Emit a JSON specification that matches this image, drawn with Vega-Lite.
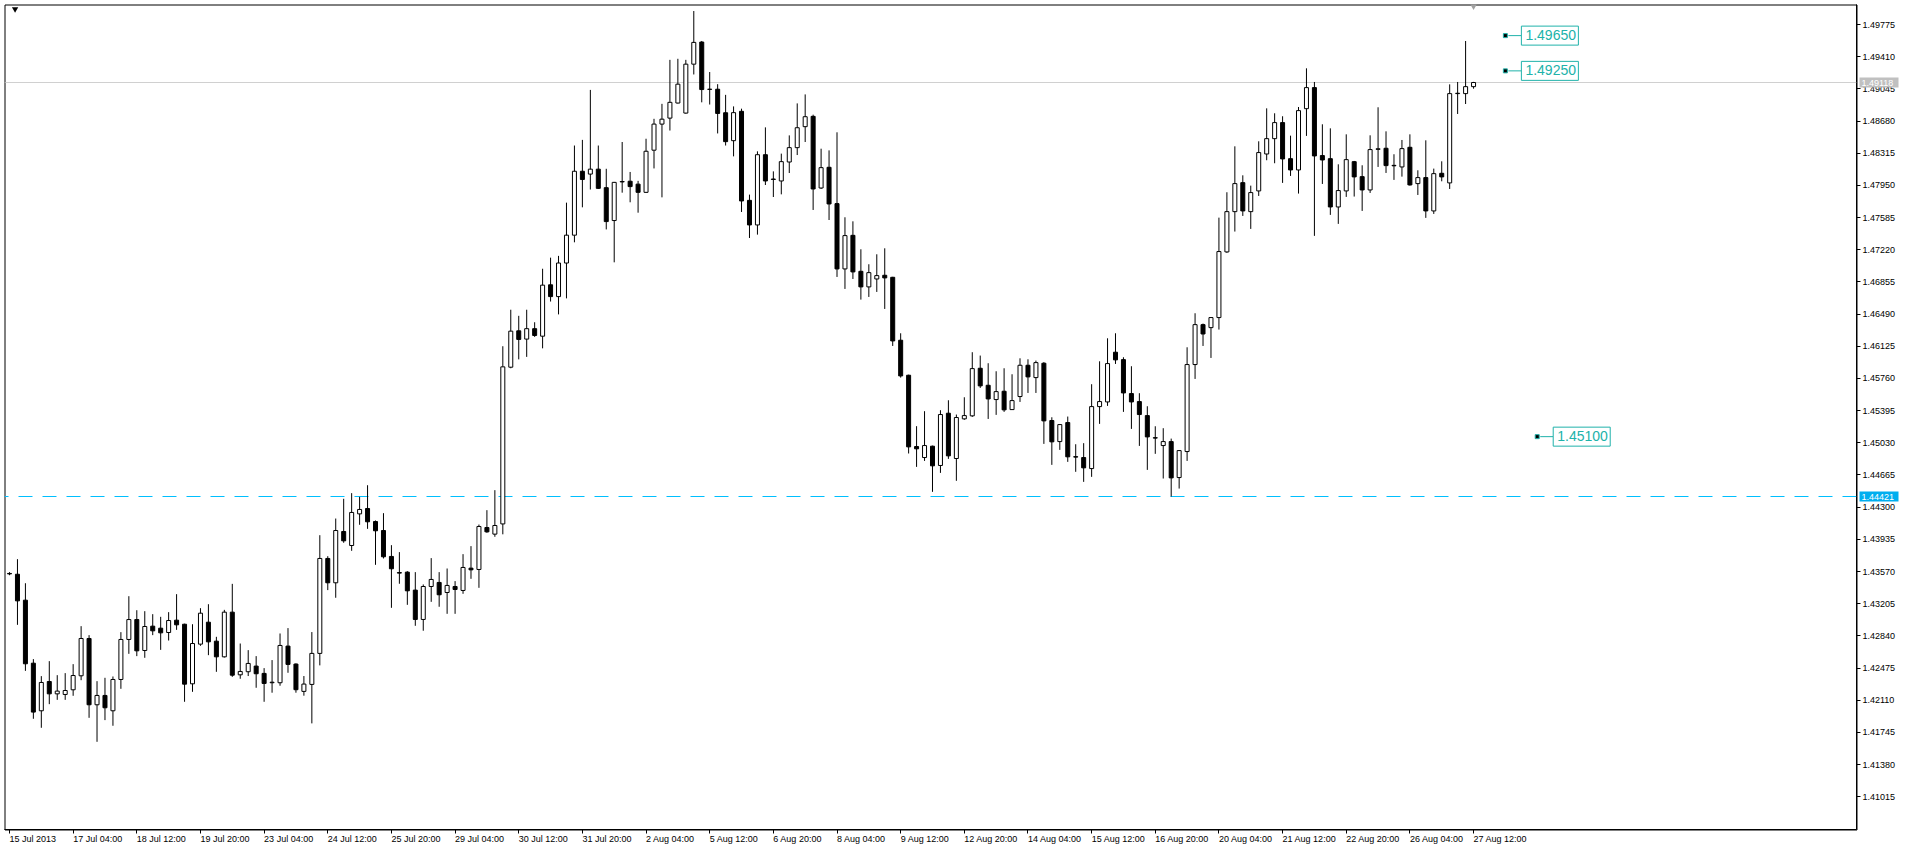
{
 "$schema": "https://vega.github.io/schema/vega-lite/v6.json",
 "width": 1852,
 "height": 825,
 "autosize": {"type": "none"},
 "padding": {"left": 4.5, "top": 4.5, "right": 55.5, "bottom": 22.5},
 "background": "white",
 "config": {
  "view": {"stroke": "black", "strokeWidth": 1},
  "axis": {"labelFont": "Liberation Sans", "labelFontSize": 9, "labelColor": "black", "domainColor": "black", "tickColor": "black", "tickSize": 4, "grid": false, "translate": 0, "labelOverlap": false, "labelFlush": false}
 },
 "datasets": {
  "hlines": [
   {"name": "bid", "p": 1.49118, "label": "1.49118"},
   {"name": "hline", "p": 1.44421, "label": "1.44421"}
  ],
  "labels": [
   {"i": 188, "p": 1.4965, "label": "1.49650"},
   {"i": 188, "p": 1.4925, "label": "1.49250"},
   {"i": 192, "p": 1.451, "label": "1.45100"}
  ],
  "ui": [
   {"kind": "menu", "i": 0.7, "p": 1.49940},
   {"kind": "shift", "i": 184, "p": 1.49971}
  ],
  "candles": [
{"i":0,"t":"15 Jul 20:00","o":1.43548,"h":1.43563,"l":1.43528,"c":1.43543},
{"i":1,"t":"16 Jul 00:00","o":1.43539,"h":1.43710,"l":1.42965,"c":1.43237},
{"i":2,"t":"16 Jul 04:00","o":1.43245,"h":1.43437,"l":1.42443,"c":1.42523},
{"i":3,"t":"16 Jul 08:00","o":1.42530,"h":1.42576,"l":1.41899,"c":1.41975},
{"i":4,"t":"16 Jul 12:00","o":1.41990,"h":1.42383,"l":1.41797,"c":1.42311},
{"i":5,"t":"16 Jul 16:00","o":1.42322,"h":1.42553,"l":1.42065,"c":1.42182},
{"i":6,"t":"16 Jul 20:00","o":1.42182,"h":1.42394,"l":1.42114,"c":1.42213},
{"i":7,"t":"17 Jul 00:00","o":1.42175,"h":1.42417,"l":1.42114,"c":1.42220},
{"i":8,"t":"17 Jul 04:00","o":1.42228,"h":1.42519,"l":1.42160,"c":1.42390},
{"i":9,"t":"17 Jul 08:00","o":1.42387,"h":1.42950,"l":1.42337,"c":1.42810},
{"i":10,"t":"17 Jul 12:00","o":1.42810,"h":1.42848,"l":1.41910,"c":1.42058},
{"i":11,"t":"17 Jul 16:00","o":1.42058,"h":1.42326,"l":1.41638,"c":1.42164},
{"i":12,"t":"17 Jul 20:00","o":1.42164,"h":1.42364,"l":1.41884,"c":1.42024},
{"i":13,"t":"18 Jul 00:00","o":1.41990,"h":1.42379,"l":1.41820,"c":1.42345},
{"i":14,"t":"18 Jul 04:00","o":1.42345,"h":1.42882,"l":1.42239,"c":1.42799},
{"i":15,"t":"18 Jul 08:00","o":1.42799,"h":1.43290,"l":1.42636,"c":1.43025},
{"i":16,"t":"18 Jul 12:00","o":1.43025,"h":1.43131,"l":1.42610,"c":1.42670},
{"i":17,"t":"18 Jul 16:00","o":1.42674,"h":1.43120,"l":1.42591,"c":1.42946},
{"i":18,"t":"18 Jul 20:00","o":1.42950,"h":1.43086,"l":1.42848,"c":1.42897},
{"i":19,"t":"19 Jul 00:00","o":1.42927,"h":1.43056,"l":1.42681,"c":1.42874},
{"i":20,"t":"19 Jul 04:00","o":1.42878,"h":1.43109,"l":1.42787,"c":1.43014},
{"i":21,"t":"19 Jul 08:00","o":1.43018,"h":1.43313,"l":1.42908,"c":1.42965},
{"i":22,"t":"19 Jul 12:00","o":1.42972,"h":1.42978,"l":1.42092,"c":1.42292},
{"i":23,"t":"19 Jul 16:00","o":1.42296,"h":1.42972,"l":1.42205,"c":1.42753},
{"i":24,"t":"19 Jul 20:00","o":1.42746,"h":1.43154,"l":1.42727,"c":1.43097},
{"i":25,"t":"22 Jul 00:00","o":1.42995,"h":1.43199,"l":1.42621,"c":1.42772},
{"i":26,"t":"22 Jul 04:00","o":1.42780,"h":1.42829,"l":1.42432,"c":1.42602},
{"i":27,"t":"22 Jul 08:00","o":1.42602,"h":1.43135,"l":1.42594,"c":1.43109},
{"i":28,"t":"22 Jul 12:00","o":1.43109,"h":1.43430,"l":1.42375,"c":1.42394},
{"i":29,"t":"22 Jul 16:00","o":1.42398,"h":1.42753,"l":1.42353,"c":1.42436},
{"i":30,"t":"22 Jul 20:00","o":1.42433,"h":1.42678,"l":1.42384,"c":1.42527},
{"i":31,"t":"23 Jul 00:00","o":1.42497,"h":1.42610,"l":1.42251,"c":1.42410},
{"i":32,"t":"23 Jul 04:00","o":1.42414,"h":1.42474,"l":1.42092,"c":1.42300},
{"i":33,"t":"23 Jul 08:00","o":1.42308,"h":1.42565,"l":1.42195,"c":1.42314},
{"i":34,"t":"23 Jul 12:00","o":1.42308,"h":1.42867,"l":1.42274,"c":1.42731},
{"i":35,"t":"23 Jul 16:00","o":1.42724,"h":1.42928,"l":1.42421,"c":1.42516},
{"i":36,"t":"23 Jul 20:00","o":1.42520,"h":1.42528,"l":1.42195,"c":1.42229},
{"i":37,"t":"24 Jul 00:00","o":1.42210,"h":1.42384,"l":1.42161,"c":1.42293},
{"i":38,"t":"24 Jul 04:00","o":1.42289,"h":1.42883,"l":1.41847,"c":1.42641},
{"i":39,"t":"24 Jul 08:00","o":1.42641,"h":1.43982,"l":1.42505,"c":1.43718},
{"i":40,"t":"24 Jul 12:00","o":1.43718,"h":1.43744,"l":1.43359,"c":1.43442},
{"i":41,"t":"24 Jul 16:00","o":1.43442,"h":1.44171,"l":1.43272,"c":1.44035},
{"i":42,"t":"24 Jul 20:00","o":1.44024,"h":1.44395,"l":1.43896,"c":1.43918},
{"i":43,"t":"25 Jul 00:00","o":1.43865,"h":1.44459,"l":1.43805,"c":1.44240},
{"i":44,"t":"25 Jul 04:00","o":1.44224,"h":1.44417,"l":1.44100,"c":1.44274},
{"i":45,"t":"25 Jul 08:00","o":1.44285,"h":1.44549,"l":1.44054,"c":1.44134},
{"i":46,"t":"25 Jul 12:00","o":1.44137,"h":1.44149,"l":1.43646,"c":1.44032},
{"i":47,"t":"25 Jul 16:00","o":1.44035,"h":1.44232,"l":1.43718,"c":1.43737},
{"i":48,"t":"25 Jul 20:00","o":1.43741,"h":1.43869,"l":1.43158,"c":1.43601},
{"i":49,"t":"26 Jul 00:00","o":1.43558,"h":1.43790,"l":1.43431,"c":1.43552},
{"i":50,"t":"26 Jul 04:00","o":1.43563,"h":1.43574,"l":1.43192,"c":1.43351},
{"i":51,"t":"26 Jul 08:00","o":1.43359,"h":1.43563,"l":1.42954,"c":1.43026},
{"i":52,"t":"26 Jul 12:00","o":1.43026,"h":1.43423,"l":1.42898,"c":1.43400},
{"i":53,"t":"26 Jul 16:00","o":1.43400,"h":1.43722,"l":1.43226,"c":1.43480},
{"i":54,"t":"26 Jul 20:00","o":1.43446,"h":1.43563,"l":1.43170,"c":1.43306},
{"i":55,"t":"29 Jul 00:00","o":1.43332,"h":1.43604,"l":1.43090,"c":1.43412},
{"i":56,"t":"29 Jul 04:00","o":1.43400,"h":1.43461,"l":1.43090,"c":1.43366},
{"i":57,"t":"29 Jul 08:00","o":1.43355,"h":1.43767,"l":1.43317,"c":1.43616},
{"i":58,"t":"29 Jul 12:00","o":1.43608,"h":1.43858,"l":1.43487,"c":1.43589},
{"i":59,"t":"29 Jul 16:00","o":1.43593,"h":1.44103,"l":1.43385,"c":1.44081},
{"i":60,"t":"29 Jul 20:00","o":1.44069,"h":1.44266,"l":1.44009,"c":1.44020},
{"i":61,"t":"30 Jul 00:00","o":1.43994,"h":1.44493,"l":1.43964,"c":1.44092},
{"i":62,"t":"30 Jul 04:00","o":1.44110,"h":1.46126,"l":1.43992,"c":1.45892},
{"i":63,"t":"30 Jul 08:00","o":1.45888,"h":1.46540,"l":1.45876,"c":1.46297},
{"i":64,"t":"30 Jul 12:00","o":1.46301,"h":1.46471,"l":1.45977,"c":1.46203},
{"i":65,"t":"30 Jul 16:00","o":1.46207,"h":1.46540,"l":1.46005,"c":1.46325},
{"i":66,"t":"30 Jul 20:00","o":1.46325,"h":1.46398,"l":1.46232,"c":1.46248},
{"i":67,"t":"31 Jul 00:00","o":1.46240,"h":1.47005,"l":1.46102,"c":1.46819},
{"i":68,"t":"31 Jul 04:00","o":1.46823,"h":1.47131,"l":1.46633,"c":1.46689},
{"i":69,"t":"31 Jul 08:00","o":1.46689,"h":1.47151,"l":1.46487,"c":1.47070},
{"i":70,"t":"31 Jul 12:00","o":1.47070,"h":1.47755,"l":1.46669,"c":1.47386},
{"i":71,"t":"31 Jul 16:00","o":1.47386,"h":1.48403,"l":1.47305,"c":1.48111},
{"i":72,"t":"31 Jul 20:00","o":1.48111,"h":1.48467,"l":1.47702,"c":1.48018},
{"i":73,"t":"1 Aug 00:00","o":1.48079,"h":1.49034,"l":1.47904,"c":1.48135},
{"i":74,"t":"1 Aug 04:00","o":1.48135,"h":1.48403,"l":1.47910,"c":1.47917},
{"i":75,"t":"1 Aug 08:00","o":1.47925,"h":1.48139,"l":1.47451,"c":1.47540},
{"i":76,"t":"1 Aug 12:00","o":1.47552,"h":1.47990,"l":1.47078,"c":1.47985},
{"i":77,"t":"1 Aug 16:00","o":1.47990,"h":1.48443,"l":1.47868,"c":1.47995},
{"i":78,"t":"1 Aug 20:00","o":1.47998,"h":1.48103,"l":1.47759,"c":1.47937},
{"i":79,"t":"2 Aug 00:00","o":1.47965,"h":1.48002,"l":1.47641,"c":1.47872},
{"i":80,"t":"2 Aug 04:00","o":1.47872,"h":1.48480,"l":1.47865,"c":1.48338},
{"i":81,"t":"2 Aug 08:00","o":1.48350,"h":1.48706,"l":1.48143,"c":1.48646},
{"i":82,"t":"2 Aug 12:00","o":1.48646,"h":1.48876,"l":1.47815,"c":1.48702},
{"i":83,"t":"2 Aug 16:00","o":1.48714,"h":1.49375,"l":1.48573,"c":1.48893},
{"i":84,"t":"2 Aug 20:00","o":1.48885,"h":1.49387,"l":1.48880,"c":1.49099},
{"i":85,"t":"5 Aug 00:00","o":1.48771,"h":1.49375,"l":1.48765,"c":1.49326},
{"i":86,"t":"5 Aug 04:00","o":1.49326,"h":1.49929,"l":1.49209,"c":1.49573},
{"i":87,"t":"5 Aug 08:00","o":1.49577,"h":1.49589,"l":1.48893,"c":1.49038},
{"i":88,"t":"5 Aug 12:00","o":1.49042,"h":1.49237,"l":1.48868,"c":1.49040},
{"i":89,"t":"5 Aug 16:00","o":1.49042,"h":1.49099,"l":1.48540,"c":1.48767},
{"i":90,"t":"5 Aug 20:00","o":1.48775,"h":1.48978,"l":1.48403,"c":1.48447},
{"i":91,"t":"6 Aug 00:00","o":1.48458,"h":1.48847,"l":1.48280,"c":1.48776},
{"i":92,"t":"6 Aug 04:00","o":1.48791,"h":1.48821,"l":1.47649,"c":1.47774},
{"i":93,"t":"6 Aug 08:00","o":1.47781,"h":1.47846,"l":1.47354,"c":1.47502},
{"i":94,"t":"6 Aug 12:00","o":1.47502,"h":1.48337,"l":1.47392,"c":1.48299},
{"i":95,"t":"6 Aug 16:00","o":1.48299,"h":1.48609,"l":1.47955,"c":1.48001},
{"i":96,"t":"6 Aug 20:00","o":1.48023,"h":1.48110,"l":1.47819,"c":1.48018},
{"i":97,"t":"7 Aug 00:00","o":1.48001,"h":1.48311,"l":1.47849,"c":1.48220},
{"i":98,"t":"7 Aug 04:00","o":1.48216,"h":1.48518,"l":1.48091,"c":1.48379},
{"i":99,"t":"7 Aug 08:00","o":1.48379,"h":1.48881,"l":1.48295,"c":1.48605},
{"i":100,"t":"7 Aug 12:00","o":1.48617,"h":1.48983,"l":1.48443,"c":1.48730},
{"i":101,"t":"7 Aug 16:00","o":1.48734,"h":1.48753,"l":1.47672,"c":1.47910},
{"i":102,"t":"7 Aug 20:00","o":1.47921,"h":1.48367,"l":1.47910,"c":1.48152},
{"i":103,"t":"8 Aug 00:00","o":1.48156,"h":1.48348,"l":1.47558,"c":1.47740},
{"i":104,"t":"8 Aug 04:00","o":1.47744,"h":1.48553,"l":1.46912,"c":1.47003},
{"i":105,"t":"8 Aug 08:00","o":1.47003,"h":1.47589,"l":1.46776,"c":1.47381},
{"i":106,"t":"8 Aug 12:00","o":1.47384,"h":1.47543,"l":1.46889,"c":1.46969},
{"i":107,"t":"8 Aug 16:00","o":1.46976,"h":1.47226,"l":1.46655,"c":1.46799},
{"i":108,"t":"8 Aug 20:00","o":1.46799,"h":1.47056,"l":1.46685,"c":1.46961},
{"i":109,"t":"9 Aug 00:00","o":1.46889,"h":1.47169,"l":1.46742,"c":1.46927},
{"i":110,"t":"9 Aug 04:00","o":1.46931,"h":1.47237,"l":1.46549,"c":1.46901},
{"i":111,"t":"9 Aug 08:00","o":1.46908,"h":1.46913,"l":1.46129,"c":1.46186},
{"i":112,"t":"9 Aug 12:00","o":1.46194,"h":1.46273,"l":1.45770,"c":1.45789},
{"i":113,"t":"9 Aug 16:00","o":1.45797,"h":1.45803,"l":1.44909,"c":1.44984},
{"i":114,"t":"9 Aug 20:00","o":1.44988,"h":1.45219,"l":1.44757,"c":1.44962},
{"i":115,"t":"12 Aug 00:00","o":1.44863,"h":1.45389,"l":1.44825,"c":1.44999},
{"i":116,"t":"12 Aug 04:00","o":1.44992,"h":1.44998,"l":1.44474,"c":1.44769},
{"i":117,"t":"12 Aug 08:00","o":1.44773,"h":1.45400,"l":1.44689,"c":1.45351},
{"i":118,"t":"12 Aug 12:00","o":1.45366,"h":1.45513,"l":1.44848,"c":1.44882},
{"i":119,"t":"12 Aug 16:00","o":1.44852,"h":1.45351,"l":1.44599,"c":1.45317},
{"i":120,"t":"12 Aug 20:00","o":1.45302,"h":1.45547,"l":1.45291,"c":1.45339},
{"i":121,"t":"13 Aug 00:00","o":1.45336,"h":1.46058,"l":1.45324,"c":1.45872},
{"i":122,"t":"13 Aug 04:00","o":1.45876,"h":1.46020,"l":1.45653,"c":1.45676},
{"i":123,"t":"13 Aug 08:00","o":1.45683,"h":1.45933,"l":1.45301,"c":1.45528},
{"i":124,"t":"13 Aug 12:00","o":1.45521,"h":1.45842,"l":1.45347,"c":1.45611},
{"i":125,"t":"13 Aug 16:00","o":1.45615,"h":1.45876,"l":1.45381,"c":1.45404},
{"i":126,"t":"13 Aug 20:00","o":1.45407,"h":1.45808,"l":1.45403,"c":1.45509},
{"i":127,"t":"14 Aug 00:00","o":1.45555,"h":1.45989,"l":1.45494,"c":1.45910},
{"i":128,"t":"14 Aug 04:00","o":1.45910,"h":1.45978,"l":1.45596,"c":1.45778},
{"i":129,"t":"14 Aug 08:00","o":1.45770,"h":1.45963,"l":1.45596,"c":1.45940},
{"i":130,"t":"14 Aug 12:00","o":1.45933,"h":1.45946,"l":1.45018,"c":1.45279},
{"i":131,"t":"14 Aug 16:00","o":1.45283,"h":1.45320,"l":1.44780,"c":1.45041},
{"i":132,"t":"14 Aug 20:00","o":1.45044,"h":1.45243,"l":1.44950,"c":1.45237},
{"i":133,"t":"15 Aug 00:00","o":1.45260,"h":1.45328,"l":1.44814,"c":1.44871},
{"i":134,"t":"15 Aug 04:00","o":1.44873,"h":1.45014,"l":1.44701,"c":1.44868},
{"i":135,"t":"15 Aug 08:00","o":1.44863,"h":1.45026,"l":1.44587,"c":1.44746},
{"i":136,"t":"15 Aug 12:00","o":1.44738,"h":1.45695,"l":1.44644,"c":1.45441},
{"i":137,"t":"15 Aug 16:00","o":1.45441,"h":1.45955,"l":1.45245,"c":1.45498},
{"i":138,"t":"15 Aug 20:00","o":1.45494,"h":1.46216,"l":1.45449,"c":1.45929},
{"i":139,"t":"16 Aug 00:00","o":1.46058,"h":1.46273,"l":1.45925,"c":1.45971},
{"i":140,"t":"16 Aug 04:00","o":1.45974,"h":1.46001,"l":1.45381,"c":1.45596},
{"i":141,"t":"16 Aug 08:00","o":1.45589,"h":1.45899,"l":1.45188,"c":1.45494},
{"i":142,"t":"16 Aug 12:00","o":1.45498,"h":1.45593,"l":1.44995,"c":1.45351},
{"i":143,"t":"16 Aug 16:00","o":1.45339,"h":1.45445,"l":1.44723,"c":1.45097},
{"i":144,"t":"16 Aug 20:00","o":1.45088,"h":1.45218,"l":1.44905,"c":1.45084},
{"i":145,"t":"19 Aug 00:00","o":1.44999,"h":1.45196,"l":1.44625,"c":1.45044},
{"i":146,"t":"19 Aug 04:00","o":1.45044,"h":1.45078,"l":1.44421,"c":1.44632},
{"i":147,"t":"19 Aug 08:00","o":1.44636,"h":1.44948,"l":1.44511,"c":1.44942},
{"i":148,"t":"19 Aug 12:00","o":1.44931,"h":1.46114,"l":1.44825,"c":1.45918},
{"i":149,"t":"19 Aug 16:00","o":1.45918,"h":1.46500,"l":1.45755,"c":1.46371},
{"i":150,"t":"19 Aug 20:00","o":1.46371,"h":1.46383,"l":1.46129,"c":1.46265},
{"i":151,"t":"20 Aug 00:00","o":1.46337,"h":1.46451,"l":1.45993,"c":1.46451},
{"i":152,"t":"20 Aug 04:00","o":1.46451,"h":1.47585,"l":1.46315,"c":1.47200},
{"i":153,"t":"20 Aug 08:00","o":1.47196,"h":1.47873,"l":1.47185,"c":1.47653},
{"i":154,"t":"20 Aug 12:00","o":1.47653,"h":1.48394,"l":1.47427,"c":1.47971},
{"i":155,"t":"20 Aug 16:00","o":1.47982,"h":1.48065,"l":1.47604,"c":1.47661},
{"i":156,"t":"20 Aug 20:00","o":1.47653,"h":1.47948,"l":1.47457,"c":1.47869},
{"i":157,"t":"21 Aug 00:00","o":1.47888,"h":1.48451,"l":1.47831,"c":1.48323},
{"i":158,"t":"21 Aug 04:00","o":1.48307,"h":1.48825,"l":1.48236,"c":1.48481},
{"i":159,"t":"21 Aug 08:00","o":1.48481,"h":1.48769,"l":1.48202,"c":1.48663},
{"i":160,"t":"21 Aug 12:00","o":1.48663,"h":1.48735,"l":1.47979,"c":1.48251},
{"i":161,"t":"21 Aug 16:00","o":1.48254,"h":1.48515,"l":1.48058,"c":1.48126},
{"i":162,"t":"21 Aug 20:00","o":1.48126,"h":1.48840,"l":1.47858,"c":1.48799},
{"i":163,"t":"22 Aug 00:00","o":1.48821,"h":1.49279,"l":1.48512,"c":1.49060},
{"i":164,"t":"22 Aug 04:00","o":1.49060,"h":1.49124,"l":1.47378,"c":1.48285},
{"i":165,"t":"22 Aug 08:00","o":1.48289,"h":1.48644,"l":1.47967,"c":1.48239},
{"i":166,"t":"22 Aug 12:00","o":1.48254,"h":1.48598,"l":1.47616,"c":1.47706},
{"i":167,"t":"22 Aug 16:00","o":1.47706,"h":1.48190,"l":1.47514,"c":1.47892},
{"i":168,"t":"22 Aug 20:00","o":1.47888,"h":1.48530,"l":1.47820,"c":1.48243},
{"i":169,"t":"23 Aug 00:00","o":1.48220,"h":1.48228,"l":1.47824,"c":1.48047},
{"i":170,"t":"23 Aug 04:00","o":1.48050,"h":1.48179,"l":1.47661,"c":1.47899},
{"i":171,"t":"23 Aug 08:00","o":1.47899,"h":1.48519,"l":1.47865,"c":1.48357},
{"i":172,"t":"23 Aug 12:00","o":1.48360,"h":1.48837,"l":1.48160,"c":1.48366},
{"i":173,"t":"23 Aug 16:00","o":1.48372,"h":1.48564,"l":1.48092,"c":1.48175},
{"i":174,"t":"23 Aug 20:00","o":1.48178,"h":1.48304,"l":1.48013,"c":1.48173},
{"i":175,"t":"26 Aug 00:00","o":1.48160,"h":1.48466,"l":1.48050,"c":1.48368},
{"i":176,"t":"26 Aug 04:00","o":1.48383,"h":1.48530,"l":1.47948,"c":1.47956},
{"i":177,"t":"26 Aug 08:00","o":1.47971,"h":1.48122,"l":1.47842,"c":1.48039},
{"i":178,"t":"26 Aug 12:00","o":1.48039,"h":1.48462,"l":1.47582,"c":1.47661},
{"i":179,"t":"26 Aug 16:00","o":1.47661,"h":1.48141,"l":1.47627,"c":1.48084},
{"i":180,"t":"26 Aug 20:00","o":1.48088,"h":1.48224,"l":1.47997,"c":1.48047},
{"i":181,"t":"27 Aug 00:00","o":1.47979,"h":1.49097,"l":1.47910,"c":1.48992},
{"i":182,"t":"27 Aug 04:00","o":1.48992,"h":1.49124,"l":1.48761,"c":1.48996},
{"i":183,"t":"27 Aug 08:00","o":1.48992,"h":1.49589,"l":1.48874,"c":1.49071},
{"i":184,"t":"27 Aug 12:00","o":1.49071,"h":1.49125,"l":1.49048,"c":1.49118}
  ]
 },
 "layer": [
  {
   "data": {"name": "hlines"},
   "mark": {"type": "rule", "strokeWidth": 1, "clip": true},
   "encoding": {
    "y": {"field": "p", "type": "quantitative"},
    "color": {"condition": {"test": "datum.name === 'bid'", "value": "#C0C0C0"}, "value": "#00BFFF"},
    "strokeDash": {"condition": {"test": "datum.name === 'bid'", "value": [1, 0]}, "value": [14, 10]}
   }
  },
  {
   "data": {"name": "candles"},
   "encoding": {
    "x": {
     "field": "i", "type": "quantitative",
     "scale": {"domain": [0, 231.5], "nice": false, "zero": false},
     "axis": {
      "orient": "bottom",
      "values": [0, 8, 16, 24, 32, 40, 48, 56, 64, 72, 80, 88, 96, 104, 112, 120, 128, 136, 144, 152, 160, 168, 176, 184],
      "labelExpr": "['15 Jul 2013','17 Jul 04:00','18 Jul 12:00','19 Jul 20:00','23 Jul 04:00','24 Jul 12:00','25 Jul 20:00','29 Jul 04:00','30 Jul 12:00','31 Jul 20:00','2 Aug 04:00','5 Aug 12:00','6 Aug 20:00','8 Aug 04:00','9 Aug 12:00','12 Aug 20:00','14 Aug 04:00','15 Aug 12:00','16 Aug 20:00','20 Aug 04:00','21 Aug 12:00','22 Aug 20:00','26 Aug 04:00','27 Aug 12:00'][round(datum.value / 8)]",
      "labelAlign": "left",
      "labelBaseline": "top",
      "labelPadding": 1,
      "labelOverlap": false,
      "labelFlush": false,
      "labelBound": false,
      "title": null
     }
    }
   },
   "layer": [
    {
     "mark": {"type": "rule", "color": "black", "strokeWidth": 1, "clip": true},
     "encoding": {
      "y": {
       "field": "l", "type": "quantitative",
       "scale": {"domain": [1.40643, 1.50003], "nice": false, "zero": false},
       "axis": {
        "orient": "right",
        "values": [1.41015, 1.4138, 1.41745, 1.4211, 1.42475, 1.4284, 1.43205, 1.4357, 1.43935, 1.443, 1.44665, 1.4503, 1.45395, 1.4576, 1.46125, 1.4649, 1.46855, 1.4722, 1.47585, 1.4795, 1.48315, 1.4868, 1.49045, 1.4941, 1.49775],
        "format": ".5f",
        "labelPadding": 2,
        "labelOverlap": false,
        "labelFlush": false,
        "labelBound": false,
        "tickCount": 25,
        "title": null
       }
      },
      "y2": {"field": "h"}
     }
    },
    {
     "mark": {"type": "bar", "width": 4, "stroke": "black", "strokeWidth": 1, "clip": true},
     "encoding": {
      "y": {"field": "o", "type": "quantitative"},
      "y2": {"field": "c"},
      "fill": {"condition": {"test": "datum.c >= datum.o", "value": "white"}, "value": "black"}
     }
    }
   ]
  },
  {
   "data": {"name": "hlines"},
   "mark": {"type": "rect", "xOffset": 3, "x2Offset": 42, "yOffset": -5, "y2Offset": 5},
   "encoding": {
    "x": {"value": "width"},
    "x2": {"value": "width"},
    "y": {"field": "p", "type": "quantitative"},
    "y2": {"field": "p"},
    "fill": {"condition": {"test": "datum.name === 'bid'", "value": "#C0C0C0"}, "value": "#00AEEF"}
   }
  },
  {
   "data": {"name": "hlines"},
   "mark": {"type": "text", "align": "left", "baseline": "middle", "font": "Liberation Sans", "fontSize": 9, "fill": "white", "xOffset": 5},
   "encoding": {
    "x": {"value": "width"},
    "y": {"field": "p", "type": "quantitative"},
    "text": {"field": "label"}
   }
  },
  {
   "data": {"name": "labels"},
   "encoding": {
    "x": {"field": "i", "type": "quantitative"},
    "y": {"field": "p", "type": "quantitative"}
   },
   "layer": [
    {"mark": {"type": "rule", "color": "#20B2AA", "strokeWidth": 1, "xOffset": 3, "x2Offset": 16}, "encoding": {"x2": {"field": "i"}}},
    {"mark": {"type": "rect", "fill": "white", "stroke": "#20B2AA", "strokeWidth": 1, "xOffset": 16, "x2Offset": 73, "yOffset": -9.5, "y2Offset": 9.5}, "encoding": {"x2": {"field": "i"}, "y2": {"field": "p"}}},
    {"mark": {"type": "point", "shape": "square", "size": 16, "filled": true, "fill": "black", "stroke": "#20B2AA", "strokeWidth": 1, "opacity": 1}},
    {"mark": {"type": "text", "align": "left", "baseline": "middle", "dx": 20, "font": "Liberation Sans", "fontSize": 14, "fill": "#20B2AA"}, "encoding": {"text": {"field": "label"}}}
   ]
  },
  {
   "data": {"name": "ui"},
   "mark": {"type": "point", "shape": "triangle-down", "filled": true, "opacity": 1, "size": 40},
   "encoding": {
    "x": {"field": "i", "type": "quantitative"},
    "y": {"field": "p", "type": "quantitative"},
    "color": {"condition": {"test": "datum.kind === 'shift'", "value": "#A0A0A0"}, "value": "black"}
   }
  }
 ]
}
